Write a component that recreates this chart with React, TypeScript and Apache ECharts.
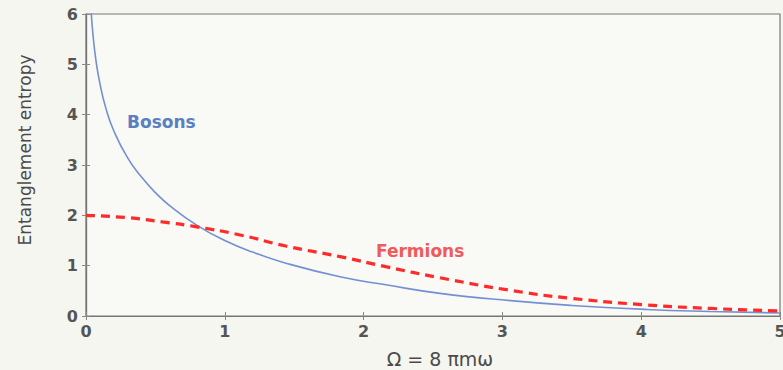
import React, { useEffect, useRef } from "react";
import * as echarts from "echarts";

const bosonX = [0.03, 0.036, 0.05, 0.072, 0.1, 0.144, 0.2, 0.3, 0.4, 0.5, 0.6, 0.8, 1.0, 1.2, 1.44, 1.83, 2.16, 2.55, 3.08, 3.5, 4.04, 4.5, 5.0];
const bosonY = [6.33, 6.08, 5.6, 5.07, 4.62, 4.12, 3.68, 3.14, 2.76, 2.45, 2.2, 1.8, 1.5, 1.27, 1.05, 0.78, 0.62, 0.45, 0.3, 0.21, 0.13, 0.09, 0.06];
const fermionX = [0, 0.317, 0.55, 0.8, 1.11, 1.44, 1.83, 2.16, 2.55, 3.08, 3.5, 4.04, 4.5, 5.0];
const fermionY = [2.0, 1.95, 1.87, 1.77, 1.61, 1.39, 1.18, 0.98, 0.76, 0.5, 0.35, 0.22, 0.15, 0.1];
const xTicks = [0, 1, 2, 3, 4, 5];
const yTicks = [0, 1, 2, 3, 4, 5, 6];

const FONT = "'DejaVu Sans', 'Open Sans', sans-serif";

export default function App() {
  const ref = useRef<HTMLDivElement>(null);
  useEffect(() => {
    if (!ref.current) return;
    const chart = echarts.init(ref.current, undefined, { renderer: "svg" });
    const axisLine = { show: true, lineStyle: { color: "#777", width: 1.2 } };
    const tick = { show: true, inside: true, length: 4, lineStyle: { color: "#888" } };
    chart.setOption({
      animation: false,
      backgroundColor: "#f6f6f1",
      grid: {
        left: 86, right: 3, top: 14, bottom: 54, outerBoundsMode: "none", containLabel: false,
        show: true, borderColor: "#777", borderWidth: 1.2, backgroundColor: "#f9f9f5",
      },
      xAxis: [
        {
          type: "value", min: xTicks[0], max: xTicks[xTicks.length - 1], interval: 1, position: "bottom",
          axisLine, axisTick: tick, splitLine: { show: false },
          axisLabel: { color: "#555", fontSize: 16, fontWeight: "bold", fontFamily: FONT, margin: 7 },
          name: "Ω = 8 πmω", nameLocation: "middle", nameGap: 33,
          nameTextStyle: { color: "#4a4a4a", fontSize: 19, fontFamily: FONT, padding: [0, 0, 0, 14] },
        },
        {
          type: "value", min: 0, max: 5, interval: 1, position: "top",
          axisLine, axisTick: tick, splitLine: { show: false }, axisLabel: { show: false },
        },
      ],
      yAxis: [
        {
          type: "value", min: yTicks[0], max: yTicks[yTicks.length - 1], interval: 1, position: "left",
          axisLine, axisTick: tick, splitLine: { show: false },
          axisLabel: { color: "#555", fontSize: 16, fontWeight: "bold", fontFamily: FONT, margin: 8 },
        },
        {
          type: "value", min: 0, max: 6, interval: 1, position: "right",
          axisLine, axisTick: tick, splitLine: { show: false }, axisLabel: { show: false },
        },
      ],
      graphic: [
        {
          type: "text", x: 25, y: 150, rotation: Math.PI / 2,
          style: { text: "Entanglement entropy", fill: "#4a4a4a", fontSize: 17, fontFamily: FONT, align: "center", verticalAlign: "middle" },
        },
        {
          type: "text", x: 127, y: 122,
          style: { text: "Bosons", fill: "#5a80c2", fontSize: 17, fontWeight: "bold", fontFamily: FONT, verticalAlign: "middle" },
        },
        {
          type: "text", x: 376, y: 251,
          style: { text: "Fermions", fill: "#f05a5a", fontSize: 17, fontWeight: "bold", fontFamily: FONT, verticalAlign: "middle" },
        },
      ],
      series: [
        {
          type: "line", name: "Bosons", smooth: 0.5, symbol: "none", clip: true,
          data: bosonX.map((x, i) => [x, bosonY[i]]),
          lineStyle: { color: "#7391d2", width: 1.6 },
        },
        {
          type: "line", name: "Fermions", smooth: 0.5, symbol: "none", clip: true,
          data: fermionX.map((x, i) => [x, fermionY[i]]),
          lineStyle: { color: "#ff2b2b", width: 3.2, type: [9, 6] },
        },
      ],
    });
    return () => chart.dispose();
  }, []);
  return <div ref={ref} style={{ width: 783, height: 370, position: "absolute", left: 0, top: 0 }} />;
}
